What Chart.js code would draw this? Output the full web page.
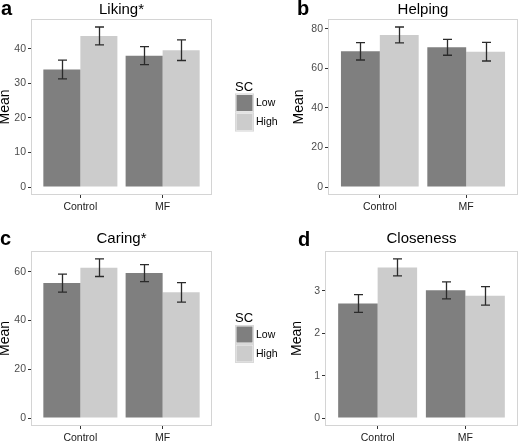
<!DOCTYPE html>
<html>
<head>
<meta charset="utf-8">
<script src="https://cdn.jsdelivr.net/npm/chart.js@4"></script>
<style>
    body { margin: 0; background: #fff; }
    #wrap { position: relative; width: 520px; height: 441px; font-family: 'Liberation Sans', Arial, sans-serif; }
    #wrap canvas { position: absolute; }
    .tag { position: absolute; font-weight: bold; font-size: 20px; line-height: 20px; color: #000; }
</style>
</head>
<body>
<div id="wrap">
    <canvas id="liking" width="290" height="222" style="left:0;top:0"></canvas>
    <canvas id="helping" width="250" height="222" style="left:270px;top:0"></canvas>
    <canvas id="caring" width="290" height="219" style="left:0;top:222px"></canvas>
    <canvas id="closeness" width="250" height="219" style="left:270px;top:222px"></canvas>
    <div class="tag" style="left:1px;top:-2px">a</div>
    <div class="tag" style="left:297px;top:-2px">b</div>
    <div class="tag" style="left:0;top:228px">c</div>
    <div class="tag" style="left:298px;top:229px">d</div>
</div>
<script>
// Groups and SC levels
var groups = ['Control', 'MF'];
var seriesNames = ['Low', 'High'];
var seriesColors = ['#7f7f7f', '#cccccc'];

// Liking*
var likingLow = [34.0, 38.0];
var likingHigh = [43.7, 39.6];
var likingLowErr = [2.7, 2.6];
var likingHighErr = [2.6, 3.0];

// Helping
var helpingLow = [68.7, 70.7];
var helpingHigh = [77.0, 68.5];
var helpingLowErr = [4.4, 4.0];
var helpingHighErr = [4.0, 4.7];

// Caring*
var caringLow = [55.4, 59.5];
var caringHigh = [61.7, 51.6];
var caringLowErr = [3.7, 3.5];
var caringHighErr = [3.6, 4.0];

// Closeness
var closenessLow = [2.70, 3.01];
var closenessHigh = [3.55, 2.88];
var closenessLowErr = [0.21, 0.20];
var closenessHighErr = [0.20, 0.22];

var FONT = "'Liberation Sans', Arial, sans-serif";

// Light frame round the plot area
var frameBox = {
    id: 'frameBox',
    afterDatasetsDraw(chart) {
        var a = chart.chartArea;
        var ctx = chart.ctx;
        ctx.save();
        ctx.strokeStyle = '#d4d4d4';
        ctx.lineWidth = 1;
        ctx.strokeRect(a.left + 0.5, a.top + 0.5, a.right - a.left - 1, a.bottom - a.top - 1);
        ctx.restore();
    }
};

// Error bars (mean +/- err) through the y scale
var errorBars = {
    id: 'errorBars',
    afterDatasetsDraw(chart) {
        var ctx = chart.ctx;
        var yScale = chart.scales.y;
        ctx.save();
        ctx.strokeStyle = '#2b2b2b';
        ctx.lineWidth = 1.3;
        chart.data.datasets.forEach(function (ds, i) {
            var meta = chart.getDatasetMeta(i);
            meta.data.forEach(function (bar, j) {
                var v = ds.data[j].y;
                var e = ds.errors[j];
                var yTop = yScale.getPixelForValue(v + e);
                var yBot = yScale.getPixelForValue(v - e);
                var x = Math.round(bar.x) + 0.5;
                ctx.beginPath();
                ctx.moveTo(x, yTop);
                ctx.lineTo(x, yBot);
                ctx.moveTo(x - 4.5, yTop);
                ctx.lineTo(x + 4.5, yTop);
                ctx.moveTo(x - 4.5, yBot);
                ctx.lineTo(x + 4.5, yBot);
                ctx.stroke();
            });
        });
        ctx.restore();
    }
};

// ggplot-like legend on the right of the plot
var scLegend = {
    id: 'scLegend',
    afterDraw(chart) {
        var opts = chart.options.plugins.scLegend;
        if (!opts || !opts.show) return;
        var a = chart.chartArea;
        var ctx = chart.ctx;
        var x = a.right + 23;
        var top = (a.top + a.bottom) / 2 - 24.5;
        ctx.save();
        ctx.fillStyle = '#000';
        ctx.font = '13px ' + FONT;
        ctx.textBaseline = 'middle';
        ctx.textAlign = 'left';
        ctx.fillText('SC', x, top + 4.5);
        chart.data.datasets.forEach(function (ds, i) {
            var ky = top + 11 + i * 19;
            ctx.fillStyle = '#f2f2f2';
            ctx.fillRect(x, ky, 19, 19);
            ctx.strokeStyle = '#d9d9d9';
            ctx.strokeRect(x + 0.5, ky + 0.5, 18, 18);
            ctx.fillStyle = ds.backgroundColor;
            ctx.fillRect(x + 1.5, ky + 1.5, 16, 16);
            ctx.fillStyle = '#000';
            ctx.font = '10.5px ' + FONT;
            ctx.fillText(ds.label, x + 21, ky + 10);
        });
        ctx.restore();
    }
};

function makePanel(id, title, low, high, lowErr, highErr, step, cfg)
{
    var means = [low, high];
    var errs = [lowErr, highErr];
    var hi = 0;
    means.forEach(function (arr, i) {
        arr.forEach(function (v, j) { hi = Math.max(hi, v + errs[i][j]); });
    });
    var pad = hi * 0.05;

    var datasets = seriesNames.map(function (name, i) {
        return {
            label: name,
            data: means[i].map(function (v, j) { return { x: j + 1, y: v }; }),
            errors: errs[i],
            backgroundColor: seriesColors[i],
            borderWidth: 0,
            categoryPercentage: 0.9,
            barPercentage: 1.0
        };
    });

    var ctx = document.getElementById(id).getContext('2d');
    return new Chart(ctx, {
        type: 'bar',
        data: { datasets: datasets },
        plugins: [frameBox, errorBars, scLegend],
        options: {
            responsive: false,
            animation: false,
            layout: {
                padding: { left: cfg.padLeft, right: cfg.padRight, top: 0, bottom: 0 }
            },
            plugins: {
                legend: { display: false },
                tooltip: { enabled: false },
                scLegend: { show: cfg.legend },
                title: {
                    display: true,
                    text: title,
                    fullSize: false,
                    color: '#000',
                    font: { size: 15, family: FONT, weight: 'normal', lineHeight: '16px' },
                    padding: cfg.titlePad
                }
            },
            scales: {
                x: {
                    type: 'linear',
                    offset: false,
                    min: 0.4,
                    max: groups.length + 0.6,
                    afterBuildTicks: function (scale) {
                        scale.ticks = groups.map(function (g, i) { return { value: i + 1 }; });
                    },
                    afterFit: function (scale) { scale.height = cfg.xHeight; },
                    border: { display: false },
                    grid: { offset: false, drawOnChartArea: false, drawTicks: true, tickLength: 3, tickColor: '#333', tickWidth: 1 },
                    ticks: {
                        color: '#222',
                        padding: 3,
                        maxRotation: 0,
                        font: { size: 10.5, family: FONT },
                        callback: function (v) { return groups[v - 1]; }
                    }
                },
                y: {
                    min: -pad,
                    max: hi + pad,
                    afterFit: function (scale) { scale.width = cfg.yWidth; },
                    border: { display: false },
                    grid: { drawOnChartArea: false, drawTicks: true, tickLength: 3, tickColor: '#333', tickWidth: 1 },
                    ticks: {
                        stepSize: step,
                        includeBounds: false,
                        color: '#4d4d4d',
                        padding: 2,
                        font: { size: 10.5, family: FONT }
                    },
                    title: {
                        display: true,
                        text: 'Mean',
                        color: '#000',
                        padding: 0,
                        font: { size: 14, family: FONT, lineHeight: '10px' }
                    }
                }
            }
        }
    });
}

makePanel('liking', 'Liking*', likingLow, likingHigh, likingLowErr, likingHighErr, 10,
    { padLeft: 0, yWidth: 31, padRight: 78, xHeight: 27, titlePad: { top: 2, bottom: 1 }, legend: true });
makePanel('helping', 'Helping', helpingLow, helpingHigh, helpingLowErr, helpingHighErr, 20,
    { padLeft: 24, yWidth: 34, padRight: 2, xHeight: 27, titlePad: { top: 2, bottom: 1 }, legend: false });
makePanel('caring', 'Caring*', caringLow, caringHigh, caringLowErr, caringHighErr, 20,
    { padLeft: 0, yWidth: 31, padRight: 78, xHeight: 15, titlePad: { top: 9, bottom: 4 }, legend: true });
makePanel('closeness', 'Closeness', closenessLow, closenessHigh, closenessLowErr, closenessHighErr, 1,
    { padLeft: 22, yWidth: 33, padRight: 2, xHeight: 15, titlePad: { top: 9, bottom: 4 }, legend: false });
</script>
</body>
</html>
